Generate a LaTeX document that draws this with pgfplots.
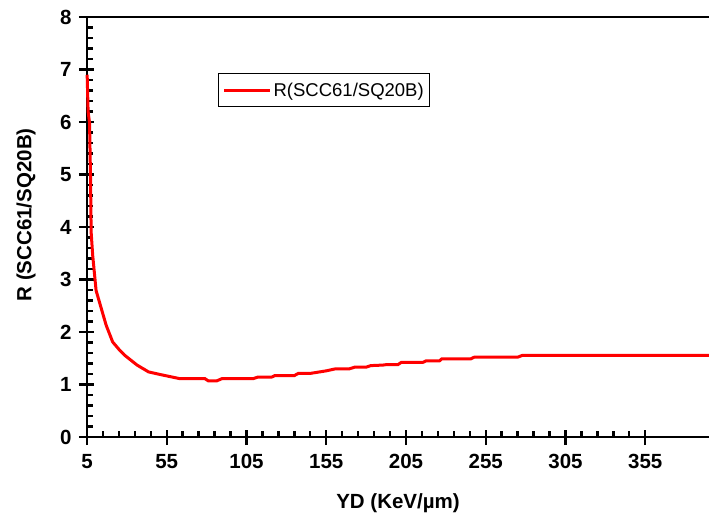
\documentclass[border=0pt]{standalone}
\usepackage{fontspec}
\setmainfont{Liberation Sans}
\usepackage{pgfplots}
\pgfplotsset{compat=1.18}
\begin{document}
\begin{tikzpicture}
\begin{axis}[
  scale only axis,
  width=622pt, height=420pt,
  xmin=5, xmax=395, ymin=0, ymax=8,
  axis lines=left,
  axis line style={-, line width=2.6pt},
  xtick={5,55,105,155,205,255,305,355},
  ytick={0,1,2,3,4,5,6,7,8},
  minor x tick num=4,
  minor y tick num=4,
  tick align=inside,
  major tick length=7pt,
  minor tick length=6pt,
  tick style={line width=2.4pt, black},
  extra x ticks={5,55,105,155,205,255,305,355},
  extra y ticks={0,1,2,3,4,5,6,7,8},
  extra x tick labels={},
  extra y tick labels={},
  extra tick style={tick align=outside, major tick length=8pt},
  /pgf/number format/assume math mode=true,
  ticklabel style={font=\bfseries\fontsize{20.5}{24}\selectfont},
  xticklabel style={yshift=-14pt},
  yticklabel style={xshift=-12pt},
  xlabel={YD (KeV/µm)},
  ylabel={R (SCC61/SQ20B)},
  label style={font=\bfseries\fontsize{20.5}{24}\selectfont},
  xlabel style={at={(axis description cs:0.5,0)}, anchor=base, yshift=-71pt},
  ylabel style={at={(axis description cs:-0.098,0.529)}, anchor=center, rotate=0},
  legend style={at={(0.211,0.866)}, anchor=north west, draw=black, line width=0.8pt,
    font=\fontsize{18.5}{22}\selectfont, inner xsep=4pt, inner ysep=7pt},
  legend image code/.code={\draw[#1, line width=3pt] (0pt,0pt) -- (46pt,0pt);},
  clip=false,
]
\addplot[red, line width=3pt] coordinates {
(5.1,6.9) (5.7,6.2) (6.6,5.98) (7.2,4.96) (7.6,3.9) (8.6,3.45) (10.7,2.79)
(12.8,2.57) (17,2.13) (21.1,1.81) (25.3,1.66) (28.5,1.56) (36.4,1.37)
(43.6,1.24) (50.9,1.19) (63.4,1.11) (79,1.11) (81,1.07) (86.4,1.07)
(89.5,1.11) (109,1.11) (112,1.14) (120.7,1.14) (122.8,1.17) (135,1.17)
(137.4,1.21) (144.7,1.21) (155,1.26) (161,1.30) (169.7,1.30) (172.8,1.33)
(180,1.33) (183,1.36) (190.5,1.37) (193,1.38) (200,1.38) (202,1.42)
(215.5,1.42) (217.6,1.45) (226,1.45) (227.5,1.49) (245.7,1.49) (247.8,1.52)
(275,1.52) (278,1.555) (395,1.555)
};
\addlegendentry{R(SCC61/SQ20B)}
\draw[line width=2.6pt] (rel axis cs:0,1) -- (rel axis cs:1,1);
\end{axis}
\pgfresetboundingbox
\path (-87pt,-78pt) rectangle (622pt,437pt);
\end{tikzpicture}
\end{document}
